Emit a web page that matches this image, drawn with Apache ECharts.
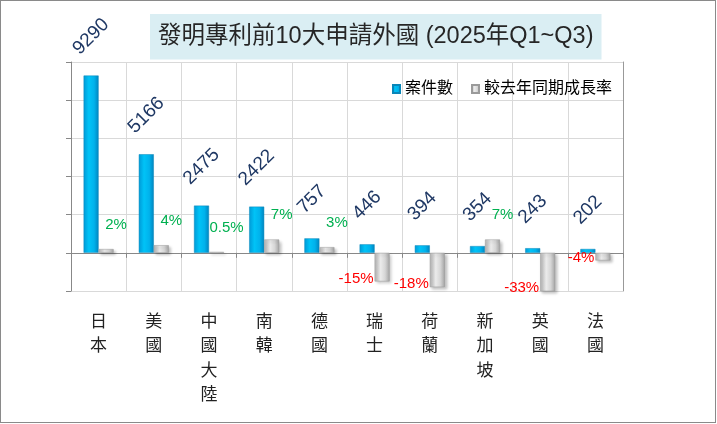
<!DOCTYPE html>
<html>
<head>
<meta charset="utf-8">
<script src="https://cdn.jsdelivr.net/npm/echarts@6/dist/echarts.min.js"></script>
<style>
    body { margin: 0; background: #fff; }
    #wrap { position: relative; width: 717px; height: 424px; }
    #chart { position: absolute; left: 0; top: 0; width: 717px; height: 424px; }
    #frame {
        position: absolute; left: 0; top: 0; width: 716px; height: 423px;
        box-sizing: border-box; border: 1px solid #8a8a8a; pointer-events: none;
    }
</style>
</head>
<body>
<div id="wrap">
    <div id="chart"></div>
    <div id="frame"></div>
</div>
<script>
// data
const countries = ["日本", "美國", "中國大陸", "南韓", "德國", "瑞士", "荷蘭", "新加坡", "英國", "法國"];
const caseCounts = [9290, 5166, 2475, 2422, 757, 446, 394, 354, 243, 202];
const growthRates = [2, 4, 0.5, 7, 3, -15, -18, 7, -33, -4];

const cjk = "'Liberation Sans', 'Noto Sans CJK TC', sans-serif";

const chart = echarts.init(document.getElementById("chart"));

// label styles for the growth bars: above-right when rising, left of the bottom when falling
const upLabel = {
    position: "top",
    offset: [10, -12],
    color: "#00B050",
};
const downLabel = {
    position: [0, "100%"],
    align: "right",
    verticalAlign: "middle",
    offset: [-1, -3],
    color: "#FF0000",
};

const blueFill = new echarts.graphic.LinearGradient(0, 0, 1, 0, [
    { offset: 0, color: "#0099d6" },
    { offset: 0.35, color: "#00c3f7" },
    { offset: 0.7, color: "#00b2ec" },
    { offset: 1, color: "#0084be" },
]);
const grayFill = new echarts.graphic.LinearGradient(0, 0, 1, 0, [
    { offset: 0, color: "#b4b4b4" },
    { offset: 0.4, color: "#ebebeb" },
    { offset: 0.7, color: "#d6d6d6" },
    { offset: 1, color: "#a4a4a4" },
]);

const options = {
    animation: false,
    title: {
        text: "發明專利前10大申請外國 (2025年Q1~Q3)",
        left: 150,
        top: 14,
        padding: [11, 8, 11, 8],
        backgroundColor: "#DAEEF3",
        textStyle: {
            fontFamily: cjk,
            fontSize: 23.5,
            fontWeight: "normal",
            color: "#262626",
        },
    },
    legend: {
        right: 100,
        top: 76,
        itemWidth: 7,
        itemHeight: 8,
        itemGap: 18,
        icon: "rect",
        textStyle: { fontFamily: cjk, fontSize: 16, color: "#000" },
        data: ["案件數", "較去年同期成長率"],
    },
    grid: { left: 71, right: 94, top: 62, bottom: 133, outerBoundsMode: "none" },
    xAxis: {
        type: "category",
        data: countries,
        axisLine: { onZero: true, lineStyle: { color: "#888" } },
        axisTick: { show: true, length: 5, lineStyle: { color: "#888" } },
        axisLabel: {
            margin: 17,
            interval: 0,
            fontFamily: "'Noto Sans CJK TC', sans-serif",
            fontSize: 17,
            lineHeight: 24.5,
            color: "#222",
            formatter: (v) => v.split("").join("\n"),
        },
        splitLine: { show: true, interval: 0, lineStyle: { color: "#d9d9d9" } },
    },
    yAxis: [
        {
            type: "value",
            min: -2000,
            max: 10000,
            interval: 2000,
            axisLine: { show: true, lineStyle: { color: "#888" } },
            axisTick: { show: true, length: 5, lineStyle: { color: "#888" } },
            axisLabel: { show: false },
            splitLine: { lineStyle: { color: "#d9d9d9" } },
        },
        {
            type: "value",
            min: -20,
            max: 100,
            interval: 20,
            position: "right",
            axisLine: { show: true, lineStyle: { color: "#999" } },
            axisTick: { show: false },
            axisLabel: { show: false },
            splitLine: { show: false },
        },
    ],
    series: [
        {
            name: "案件數",
            type: "bar",
            yAxisIndex: 0,
            barWidth: 15,
            barGap: "0%",
            data: caseCounts,
            itemStyle: { color: blueFill, borderColor: "#0a86b8", borderWidth: 0.5 },
            label: {
                show: true,
                position: "top",
                rotate: 45,
                align: "center",
                verticalAlign: "middle",
                offset: [24, -24],
                fontFamily: "'Liberation Sans', sans-serif",
                fontSize: 19,
                color: "#1F3864",
            },
        },
        {
            name: "較去年同期成長率",
            type: "bar",
            yAxisIndex: 1,
            barWidth: 15,
            data: growthRates.map((v) => ({
                value: v,
                label: v < 0 ? downLabel : upLabel,
            })),
            itemStyle: {
                color: grayFill,
                borderColor: "#9a9a9a",
                borderWidth: 0.5,
                shadowBlur: 3,
                shadowOffsetX: 2,
                shadowOffsetY: 2,
                shadowColor: "rgba(0, 0, 0, 0.25)",
            },
            label: {
                show: true,
                fontFamily: "'Liberation Sans', sans-serif",
                fontSize: 15,
                formatter: (p) => p.value + "%",
            },
        },
    ],
};

chart.setOption(options);
</script>
</body>
</html>
